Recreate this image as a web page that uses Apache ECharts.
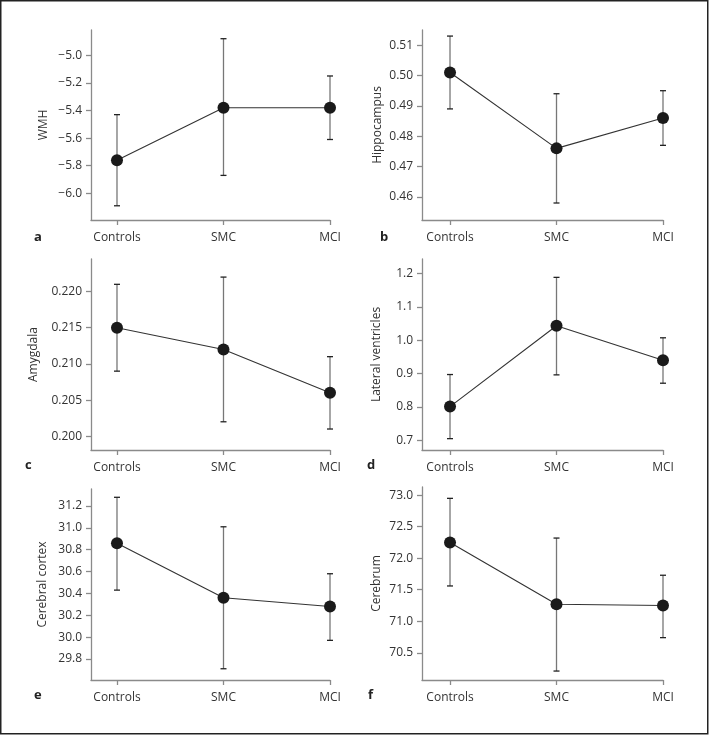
<!DOCTYPE html>
<html>
<head>
<meta charset="utf-8">
<script src="https://cdn.jsdelivr.net/npm/echarts@6/dist/echarts.min.js"></script>
<style>
html,body{margin:0;padding:0;background:#fff;}
#chart{width:709px;height:735px;}
</style>
</head>
<body>
<div id="chart"></div>
<script>
// ---- data ----
const categories = ['Controls', 'SMC', 'MCI'];

const wmhMean = [-5.76, -5.38, -5.38];
const wmhLow = [-6.09, -5.87, -5.61];
const wmhHigh = [-5.43, -4.88, -5.15];
const wmhTicks = [-6.0, -5.8, -5.6, -5.4, -5.2, -5.0];

const hippMean = [0.501, 0.476, 0.486];
const hippLow = [0.489, 0.458, 0.477];
const hippHigh = [0.513, 0.494, 0.495];
const hippTicks = [0.46, 0.47, 0.48, 0.49, 0.50, 0.51];

const amygMean = [0.215, 0.212, 0.206];
const amygLow = [0.209, 0.202, 0.201];
const amygHigh = [0.221, 0.222, 0.211];
const amygTicks = [0.200, 0.205, 0.210, 0.215, 0.220];

const ventMean = [0.801, 1.043, 0.940];
const ventLow = [0.705, 0.896, 0.871];
const ventHigh = [0.897, 1.188, 1.007];
const ventTicks = [0.7, 0.8, 0.9, 1.0, 1.1, 1.2];

const cortexMean = [30.86, 30.36, 30.28];
const cortexLow = [30.43, 29.71, 29.97];
const cortexHigh = [31.28, 31.01, 30.58];
const cortexTicks = [29.8, 30.0, 30.2, 30.4, 30.6, 30.8, 31.0, 31.2];

const cerebrumMean = [72.25, 71.27, 71.25];
const cerebrumLow = [71.56, 70.21, 70.74];
const cerebrumHigh = [72.95, 72.32, 71.73];
const cerebrumTicks = [70.5, 71.0, 71.5, 72.0, 72.5, 73.0];

// ---- panels (layout / style) ----
const panels = [
  {name: 'WMH', letter: 'a', mean: wmhMean, low: wmhLow, high: wmhHigh, ticks: wmhTicks, dec: 1,
   min: -6.193, max: -4.817, left: 91, top: 30, width: 239, height: 190, nameGap: 41, xMin: -0.244, lx: 39, ly: 240},
  {name: 'Hippocampus', letter: 'b', mean: hippMean, low: hippLow, high: hippHigh, ticks: hippTicks, dec: 2,
   min: 0.4524, max: 0.515, left: 422, top: 30, width: 241, height: 190, nameGap: 38, xMin: -0.263, lx: 385, ly: 240},
  {name: 'Amygdala', letter: 'c', mean: amygMean, low: amygLow, high: amygHigh, ticks: amygTicks, dec: 3,
   min: 0.1981, max: 0.2245, left: 91, top: 259, width: 239, height: 191, nameGap: 51, xMin: -0.244, lx: 30, ly: 468},
  {name: 'Lateral ventricles', letter: 'd', mean: ventMean, low: ventLow, high: ventHigh, ticks: ventTicks, dec: 1,
   min: 0.671, max: 1.243, left: 422, top: 259, width: 241, height: 191, nameGap: 39, xMin: -0.263, lx: 372, ly: 468},
  {name: 'Cerebral cortex', letter: 'e', mean: cortexMean, low: cortexLow, high: cortexHigh, ticks: cortexTicks, dec: 1,
   min: 29.607, max: 31.356, left: 91, top: 489, width: 239, height: 191, nameGap: 42, xMin: -0.244, lx: 39, ly: 698},
  {name: 'Cerebrum', letter: 'f', mean: cerebrumMean, low: cerebrumLow, high: cerebrumHigh, ticks: cerebrumTicks, dec: 1,
   min: 70.068, max: 73.13, left: 422, top: 487, width: 241, height: 193, nameGap: 39, xMin: -0.263, lx: 373, ly: 698}
];

const FONT = '"Open Sans", "Noto Sans", sans-serif';
const TEXT = '#333';
const AXIS = '#8a8a8a';

const grid = [], xAxis = [], yAxis = [], series = [], graphic = [];

panels.forEach((p, i) => {
  grid.push({left: p.left, top: p.top, width: p.width, height: p.height, containLabel: false});
  xAxis.push({
    type: 'value', gridIndex: i, min: p.xMin, max: 2,
    splitLine: {show: false},
    axisLine: {show: true, onZero: false, lineStyle: {color: AXIS, width: 1.3}},
    axisTick: {show: true, customValues: [0, 1, 2], length: 5, lineStyle: {color: AXIS, width: 1.3}},
    axisLabel: {show: true, customValues: [0, 1, 2], margin: 12, fontFamily: FONT, fontSize: 12, color: TEXT,
      formatter: v => categories[Math.round(v)] || ''}
  });
  yAxis.push({
    type: 'value', gridIndex: i, min: p.min, max: p.max,
    name: p.name, nameLocation: 'middle', nameGap: p.nameGap,
    nameTextStyle: {fontFamily: FONT, fontSize: 12, color: TEXT},
    splitLine: {show: false},
    axisLine: {show: true, onZero: false, lineStyle: {color: AXIS, width: 1.3}},
    axisTick: {show: true, customValues: p.ticks, length: 5, lineStyle: {color: AXIS, width: 1.3}},
    axisLabel: {show: true, customValues: p.ticks, margin: 9, fontFamily: FONT, fontSize: 12, color: TEXT,
      formatter: v => v.toFixed(p.dec).replace('-', '\u2212')}
  });
  const errData = categories.map((c, k) => [k, p.low[k], p.high[k]]);
  series.push({
    type: 'custom', xAxisIndex: i, yAxisIndex: i, data: errData, z: 2,
    renderItem: (params, api) => {
      const x = api.value(0);
      const lo = api.coord([x, api.value(1)]);
      const hi = api.coord([x, api.value(2)]);
      const cw = 3;
      return {type: 'group', children: [
        {type: 'line', shape: {x1: lo[0], y1: lo[1], x2: hi[0], y2: hi[1]}, style: {stroke: '#777', lineWidth: 1.3}},
        {type: 'line', shape: {x1: hi[0] - cw, y1: hi[1], x2: hi[0] + cw, y2: hi[1]}, style: {stroke: '#222', lineWidth: 1.3}},
        {type: 'line', shape: {x1: lo[0] - cw, y1: lo[1], x2: lo[0] + cw, y2: lo[1]}, style: {stroke: '#222', lineWidth: 1.3}}
      ]};
    }
  });
  series.push({
    type: 'line', xAxisIndex: i, yAxisIndex: i, z: 3,
    data: categories.map((c, k) => [k, p.mean[k]]),
    symbol: 'circle', symbolSize: 12,
    itemStyle: {color: '#1a1a1a'},
    lineStyle: {color: '#333', width: 1.1},
    animation: false
  });
  graphic.push({type: 'text', left: p.lx - 5, top: p.ly - 9,
    style: {text: p.letter, font: 'bold 13px ' + FONT, fill: '#222'}});
});

graphic.push({type: 'rect', shape: {x: 0.75, y: 0.75, width: 707, height: 733},
  style: {fill: 'none', stroke: '#222', lineWidth: 1.5}, silent: true});

const chart = echarts.init(document.getElementById('chart'), null, {renderer: 'canvas'});
chart.setOption({
  animation: false,
  backgroundColor: '#fff',
  grid, xAxis, yAxis, series, graphic
});
</script>
</body>
</html>
